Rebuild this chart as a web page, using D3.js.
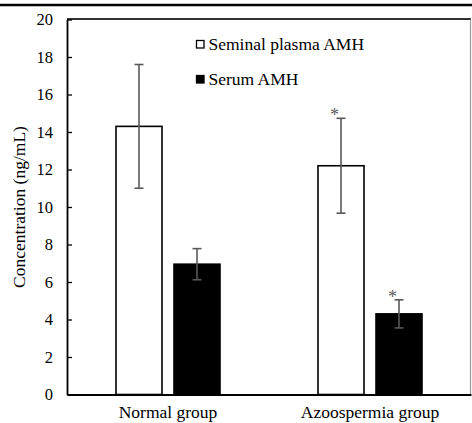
<!DOCTYPE html>
<html>
<head>
<meta charset="utf-8">
<script src="https://cdn.jsdelivr.net/npm/d3@7"></script>
<style>
  html, body { margin: 0; padding: 0; background: #fff; }
  svg { display: block; }
  svg text { font-family: "Liberation Serif", "Times New Roman", Times, "DejaVu Serif", serif !important; fill: #000; }
</style>
</head>
<body>
<svg id="chart" width="472" height="423"></svg>
<script>
const groups = ["Normal group", "Azoospermia group"];
const seriesNames = ["Seminal plasma AMH", "Serum AMH"];
const seminalValues = [14.3, 12.2];
const seminalErrors = [3.3, 2.53];
const serumValues = [6.95, 4.3];
const serumErrors = [0.83, 0.75];
const seminalSig = ["", "*"];
const serumSig = ["", "*"];
const yTicks = [0, 2, 4, 6, 8, 10, 12, 14, 16, 18, 20];

(function () {
const series = [
  { name: seriesNames[0], values: seminalValues, errors: seminalErrors, sig: seminalSig, fill: "#ffffff" },
  { name: seriesNames[1], values: serumValues, errors: serumErrors, sig: serumSig, fill: "#000000" }
];

const svg = d3.select("#chart");
const pLeft = 67, pRight = 471, pTop = 19.5, pBottom = 394.5;

const y = d3.scaleLinear().domain([0, 20]).range([pBottom, pTop]);
const x = d3.scaleBand().domain(groups).range([pLeft, pRight]).paddingInner(0).paddingOuter(0);
const bw = x.bandwidth();
const xs = d3.scaleBand().domain(seriesNames).range([bw / 2 - 52, bw / 2 + 52]).paddingInner(0.2069).paddingOuter(0);

// top rule
svg.append("line").attr("x1", 0).attr("x2", 472).attr("y1", 5).attr("y2", 5)
  .attr("stroke", "#000").attr("stroke-width", 2.5);

// plot frame top and right
svg.append("line").attr("x1", pLeft).attr("x2", pRight).attr("y1", pTop - 0.5).attr("y2", pTop - 0.5)
  .attr("stroke", "#333").attr("stroke-width", 1.8);
svg.append("line").attr("x1", pRight - 0.5).attr("x2", pRight - 0.5).attr("y1", pTop).attr("y2", pBottom)
  .attr("stroke", "#999").attr("stroke-width", 1.2);

// bars
series.forEach(s => {
  const g = svg.append("g");
  groups.forEach((grp, i) => {
    const bx = x(grp) + xs(s.name);
    const v = s.values[i];
    g.append("rect")
      .attr("x", bx).attr("y", y(v))
      .attr("width", xs.bandwidth()).attr("height", y(0) - y(v))
      .attr("fill", s.fill).attr("stroke", "#000").attr("stroke-width", 1.6);
  });
});

// error bars
series.forEach(s => {
  groups.forEach((grp, i) => {
    const cx = x(grp) + xs(s.name) + xs.bandwidth() / 2;
    const v = s.values[i], e = s.errors[i];
    const g = svg.append("g").attr("stroke", "#595959").attr("stroke-width", 1.6);
    g.append("line").attr("x1", cx).attr("x2", cx).attr("y1", y(v + e)).attr("y2", y(v - e));
    g.append("line").attr("x1", cx - 4.5).attr("x2", cx + 4.5).attr("y1", y(v + e)).attr("y2", y(v + e));
    g.append("line").attr("x1", cx - 4.5).attr("x2", cx + 4.5).attr("y1", y(v - e)).attr("y2", y(v - e));
    if (s.sig[i]) {
      svg.append("text")
        .attr("x", cx - 6.5).attr("y", y(v + e) + 3)
        .attr("text-anchor", "middle")
        .style("font-size", "18px").style("fill", "#595959")
        .text(s.sig[i]);
    }
  });
});

// y axis
const yAxis = d3.axisLeft(y).tickValues(yTicks).tickSizeInner(-5).tickSizeOuter(0).tickPadding(14);
const ya = svg.append("g").attr("transform", `translate(${pLeft},0)`).call(yAxis);
ya.attr("font-family", null).attr("font-size", null);
ya.select(".domain").attr("stroke", "#000").attr("stroke-width", 1.8);
ya.selectAll(".tick line").attr("stroke", "#000").attr("stroke-width", 1.3);
ya.selectAll(".tick text").style("font-size", "16.5px");

// x axis
const xAxis = d3.axisBottom(x).tickSize(0).tickPadding(11);
const xa = svg.append("g").attr("transform", `translate(0,${pBottom})`).call(xAxis);
xa.attr("font-family", null).attr("font-size", null);
xa.select(".domain").attr("stroke", "#000").attr("stroke-width", 1.8);
xa.selectAll(".tick text").style("font-size", "17.5px");

// y axis title
svg.append("text")
  .attr("transform", `translate(25,${(pTop + pBottom) / 2}) rotate(-90)`)
  .attr("text-anchor", "middle")
  .style("font-size", "17.5px")
  .text("Concentration (ng/mL)");

// legend
const legY = [50, 85];
series.forEach((s, i) => {
  svg.append("rect").attr("x", 196.5).attr("y", legY[i] - 9.5).attr("width", 7.5).attr("height", 7.5)
    .attr("fill", s.fill).attr("stroke", "#000").attr("stroke-width", 1.3);
  svg.append("text").attr("x", 208.5).attr("y", legY[i])
    .style("font-size", "17.5px").text(s.name);
});
})();
</script>
</body>
</html>
